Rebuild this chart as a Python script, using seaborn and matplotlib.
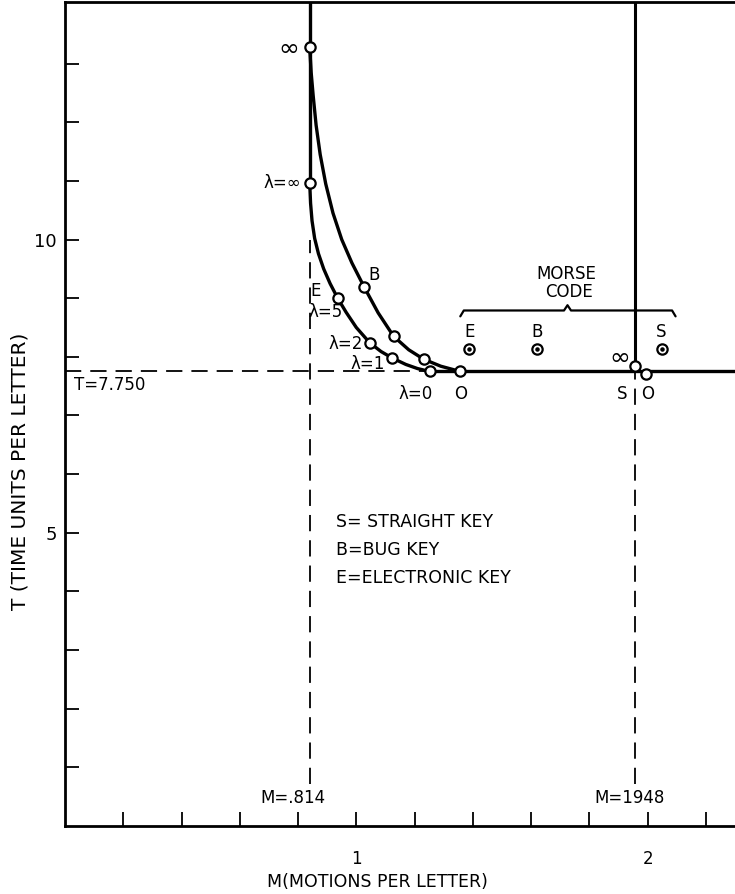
import numpy as np
import matplotlib
matplotlib.use("Agg")
import matplotlib.pyplot as plt
import seaborn as sns

# values
# curve B (upper) and curve E (lower), M motions per letter vs T time units
b_m = [0.840, 0.845, 0.852, 0.862, 0.876, 0.895, 0.920, 0.950, 0.985, 1.027, 1.075, 1.128, 1.180, 1.231, 1.290, 1.357]
b_t = [13.28, 12.85, 12.45, 11.95, 11.45, 10.95, 10.45, 10.00, 9.60, 9.19, 8.75, 8.35, 8.12, 7.96, 7.84, 7.75]
e_m = [0.840, 0.843, 0.848, 0.857, 0.870, 0.888, 0.910, 0.936, 0.965, 1.000, 1.046, 1.085, 1.123, 1.170, 1.210, 1.252]
e_t = [10.97, 10.62, 10.32, 10.02, 9.76, 9.50, 9.25, 9.00, 8.76, 8.50, 8.24, 8.09, 7.98, 7.87, 7.80, 7.75]

# open circles on the curves
b_pts_m = [0.840, 1.027, 1.128, 1.231, 1.357]
b_pts_t = [13.28, 9.19, 8.35, 7.96, 7.75]
e_pts_m = [0.840, 0.936, 1.046, 1.123, 1.252]
e_pts_t = [10.97, 9.00, 8.24, 7.98, 7.75]
s_pts_m = [1.955, 1.995]
s_pts_t = [7.85, 7.70]

# morse code points
morse_keys = ["E", "B", "S"]
morse_m = [1.388, 1.621, 2.048]
morse_t = [8.14, 8.14, 8.14]

T_line = 7.75
M_left = 0.84    # the M=.814 line as drawn
M_right = 1.955  # the M=1.948 line as drawn
t_top = 14.05
m_max = 2.30

legend_rows = ["S= STRAIGHT KEY", "B=BUG KEY", "E=ELECTRONIC KEY"]

sns.set_theme(style="ticks")
plt.rcParams["font.family"] = ["DejaVu Sans"]
plt.rcParams["text.color"] = "black"
plt.rcParams["axes.labelcolor"] = "black"
plt.rcParams["xtick.color"] = "black"
plt.rcParams["ytick.color"] = "black"

fig = plt.figure(figsize=(7.35, 8.94), dpi=100)
ax = fig.add_axes([65 / 735, 68 / 894, 670 / 735, 824 / 894])

lw = 2.4
sns.lineplot(x=b_m, y=b_t, sort=False, estimator=None, color="black", lw=lw, ax=ax)
sns.lineplot(x=e_m, y=e_t, sort=False, estimator=None, color="black", lw=lw, ax=ax)
# solid vertical at the left asymptote, from lambda=inf up to the top
ax.plot([M_left, M_left], [e_t[0], t_top], color="black", lw=lw)
# thick horizontal from lambda=0 to the right edge
ax.plot([e_m[-1], m_max], [T_line, T_line], color="black", lw=lw)
# straight key line
ax.plot([M_right, M_right], [T_line, t_top], color="black", lw=2.2)

dash = (0, (9, 5))
ax.plot([0, e_m[-1]], [T_line, T_line], color="black", lw=1.3, ls=dash)
ax.plot([M_left, M_left], [0.72, 10.0], color="black", lw=1.3, ls=dash)
ax.plot([M_right, M_right], [0.72, T_line], color="black", lw=1.3, ls=dash)

mk = dict(s=55, facecolor="white", edgecolor="black", linewidth=1.6, zorder=5)
sns.scatterplot(x=b_pts_m, y=b_pts_t, ax=ax, **mk)
sns.scatterplot(x=e_pts_m, y=e_pts_t, ax=ax, **mk)
sns.scatterplot(x=s_pts_m, y=s_pts_t, ax=ax, **mk)
sns.scatterplot(x=morse_m, y=morse_t, ax=ax, **mk)
ax.scatter(morse_m, morse_t, s=5, color="black", zorder=6)

fs = 12
# curve labels
ax.text(0.805, 13.25, "∞", fontsize=18, ha="right", va="center")
ax.text(0.812, 10.96, "λ=∞", fontsize=fs, ha="right", va="center")
ax.text(0.86, 9.12, "E", fontsize=fs, ha="center", va="center")
ax.text(0.896, 8.76, "λ=5", fontsize=fs, ha="center", va="center")
ax.text(1.06, 9.39, "B", fontsize=fs, ha="center", va="center")
ax.text(0.965, 8.22, "λ=2", fontsize=fs, ha="center", va="center")
ax.text(1.04, 7.88, "λ=1", fontsize=fs, ha="center", va="center")
ax.text(1.203, 7.37, "λ=0", fontsize=fs, ha="center", va="center")
ax.text(b_m[-1], 7.37, "O", fontsize=fs, ha="center", va="center")
ax.text(1.905, 7.98, "∞", fontsize=18, ha="center", va="center")
ax.text(1.913, 7.37, "S", fontsize=fs, ha="center", va="center")
ax.text(2.0, 7.37, "O", fontsize=fs, ha="center", va="center")
for k, m, t in zip(morse_keys, morse_m, morse_t):
    ax.text(m, t + 0.29, k, fontsize=fs, ha="center", va="center")

# brace over the morse code points
x0, x1, xc, yb = b_m[-1], 2.096, 1.725, 8.79
ax.plot([x0, x0 + 0.012, xc - 0.012, xc, xc + 0.012, x1 - 0.012, x1],
        [yb - 0.1, yb, yb, yb + 0.09, yb, yb, yb - 0.1], color="black", lw=1.6)
ax.text(xc - 0.005, 9.42, "MORSE", fontsize=fs, ha="center", va="center")
ax.text(xc + 0.005, 9.10, "CODE", fontsize=fs, ha="center", va="center")

ax.text(0.03, 7.52, "T=7.750", fontsize=fs, ha="left", va="center")
ax.text(0.782, 0.47, "M=.814", fontsize=fs, ha="center", va="center")
ax.text(1.938, 0.48, "M=1948", fontsize=fs, ha="center", va="center")

for i, row in enumerate(legend_rows):
    ax.text(0.93, 5.19 - 0.48 * i, row, fontsize=12.5, ha="left", va="center")

ax.set_xlim(0, m_max)
ax.set_ylim(0, t_top)
xt = np.round(np.arange(0.2, 2.21, 0.2), 1)
ax.set_xticks(xt)
ax.set_xticklabels(["1" if v == 1.0 else "2" if v == 2.0 else "" for v in xt], fontsize=12)
yt = np.arange(1, 14)
ax.set_yticks(yt)
ax.set_yticklabels(["5" if v == 5 else "10" if v == 10 else "" for v in yt], fontsize=13)
ax.tick_params(direction="in", length=10, width=1.3, color="black")
ax.tick_params(axis="x", pad=17)
ax.tick_params(axis="y", pad=6)
for s in ["left", "bottom", "top"]:
    ax.spines[s].set_linewidth(2.0)
    ax.spines[s].set_color("black")
ax.spines["right"].set_visible(False)

ax.set_xlabel("M(MOTIONS PER LETTER)", fontsize=12.5, va="center")
ax.xaxis.set_label_coords(0.467, -0.0675)
ax.set_ylabel("T (TIME UNITS PER LETTER)", fontsize=14.5)
ax.yaxis.set_label_coords(-0.053, 0.43)

fig.savefig("out.png", dpi=100)
